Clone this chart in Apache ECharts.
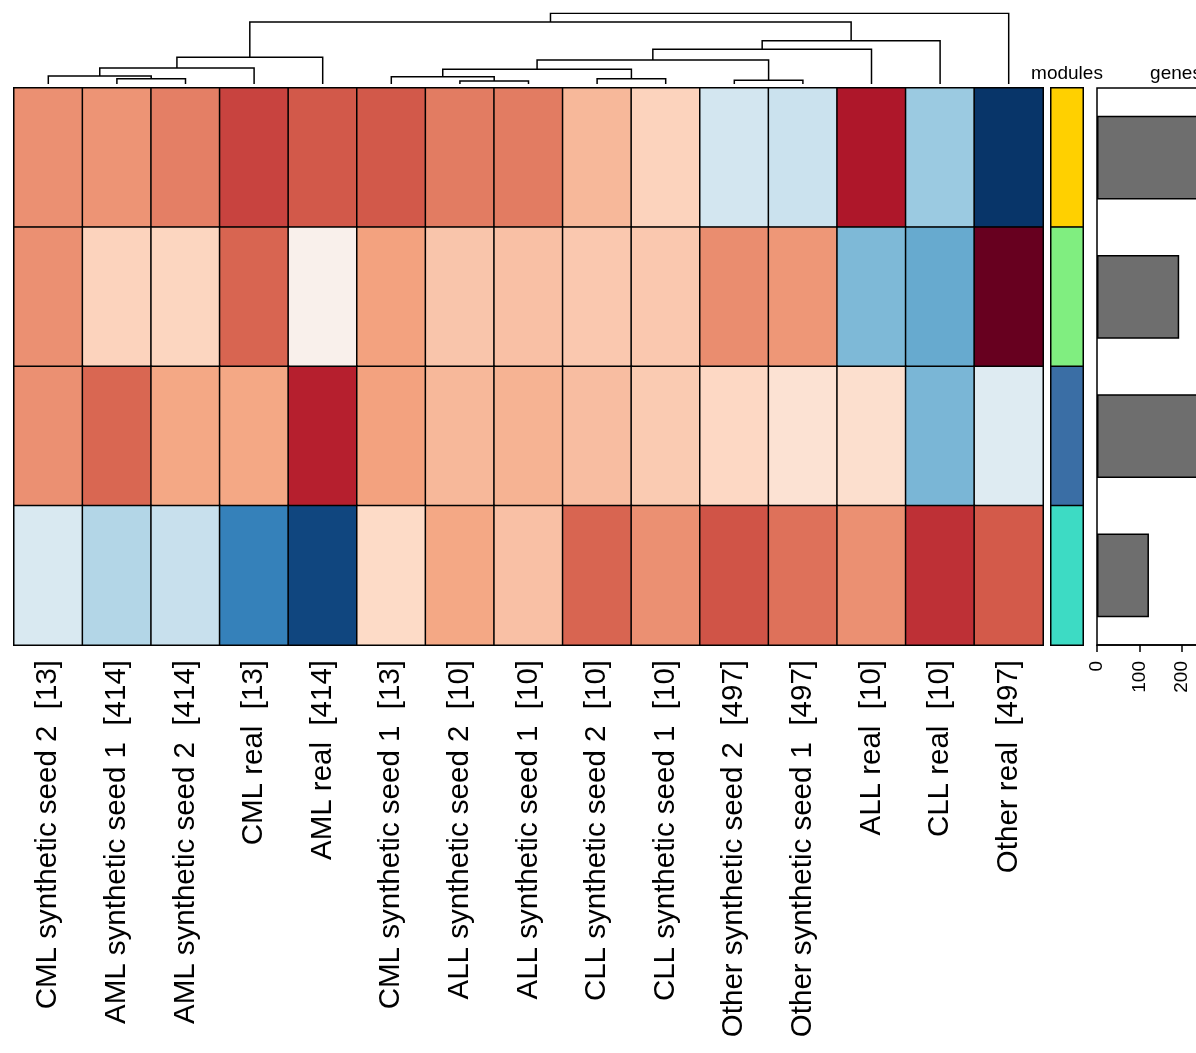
<!DOCTYPE html>
<html>
<head>
<meta charset="utf-8">
<style>
html,body{margin:0;padding:0;background:#fff;overflow:hidden;}
#chart{width:1270px;height:1053px;}
</style>
<script src="https://cdn.jsdelivr.net/npm/echarts@6/dist/echarts.min.js"></script>
</head>
<body>
<div id="chart"></div>
<script>
// ---- data ----
const columns = [
  'CML synthetic seed 2  [13]', 'AML synthetic seed 1  [414]', 'AML synthetic seed 2  [414]',
  'CML real  [13]', 'AML real  [414]', 'CML synthetic seed 1  [13]',
  'ALL synthetic seed 2  [10]', 'ALL synthetic seed 1  [10]', 'CLL synthetic seed 2  [10]',
  'CLL synthetic seed 1  [10]', 'Other synthetic seed 2  [497]', 'Other synthetic seed 1  [497]',
  'ALL real  [10]', 'CLL real  [10]', 'Other real  [497]'
];
const modules = ['M1', 'M2', 'M3', 'M4'];
const moduleColors = ['#FFD000', '#80EE80', '#3A6EA5', '#3DDBC4'];
const row1 = [0.46, 0.45, 0.51, 0.68, 0.62, 0.62, 0.52, 0.52, 0.33, 0.23, -0.19, -0.22, 0.81, -0.37, -0.98];
const row2 = [0.46, 0.23, 0.22, 0.585, 0.05, 0.41, 0.28, 0.30, 0.27, 0.27, 0.47, 0.44, -0.45, -0.51, 1.0];
const row3 = [0.46, 0.58, 0.39, 0.39, 0.78, 0.41, 0.33, 0.35, 0.31, 0.26, 0.21, 0.15, 0.17, -0.46, -0.13];
const row4 = [-0.16, -0.295, -0.23, -0.68, -0.92, 0.20, 0.39, 0.30, 0.585, 0.46, 0.633, 0.55, 0.46, 0.733, 0.617];
const geneCounts = [353, 193, 330, 122];
const geneTicks = [0, 100, 200, 300];
// dendrogram (hclust style: negative = leaf position, positive = earlier merge)
const dendroMerge = [[-2,-3],[-1,1],[2,-4],[3,-5],[-7,-8],[-6,5],[-9,-10],[6,7],[-11,-12],[8,9],[10,-13],[11,-14],[4,12],[13,-15]];
const dendroHeight = [5.3, 8, 16, 26.7, 3, 7.3, 5.3, 14.7, 3.7, 24, 34.7, 43.3, 62, 70.7];
const rdbu = ['#053061','#2166ac','#4393c3','#92c5de','#d1e5f0','#f7f7f7','#fddbc7','#f4a582','#d6604d','#b2182b','#67001f'];

// ---- build ----
const rows = [row1, row2, row3, row4];
const heatData = [];
rows.forEach((r, ri) => r.forEach((v, ci) => heatData.push([ci, ri, v])));

const nodeX = [], nodeH = [];
const dendroLines = [];
function childInfo(c) {
  if (c < 0) return { x: -c - 1, h: 0 };
  return { x: nodeX[c - 1], h: nodeH[c - 1] };
}
dendroMerge.forEach((m, i) => {
  const a = childInfo(m[0]), b = childInfo(m[1]);
  const h = dendroHeight[i];
  const l = a.x <= b.x ? a : b, r = a.x <= b.x ? b : a;
  nodeX.push((l.x + r.x) / 2); nodeH.push(h);
  dendroLines.push({ coords: [[l.x, l.h], [l.x, h], [r.x, h], [r.x, r.h]] });
});

const font = 'Liberation Sans, Arial, Helvetica, sans-serif';
const chart = echarts.init(document.getElementById('chart'));
chart.setOption({
  backgroundColor: '#fff',
  animation: false,
  grid: [
    { left: 14, top: 88, width: 1029, height: 557 },
    { left: 14, top: 13.3, width: 1029, height: 70.7 },
    { left: 1051, top: 88, width: 32, height: 557 },
    { left: 1097, top: 88, width: 158, height: 557, show: true, borderColor: '#000', borderWidth: 1.5, backgroundColor: 'transparent' }
  ],
  xAxis: [
    { gridIndex: 0, type: 'category', data: columns,
      axisLine: { show: false }, axisTick: { show: false },
      axisLabel: { rotate: 90, interval: 0, fontSize: 29.5, color: '#000', margin: 15, fontFamily: font } },
    { gridIndex: 1, type: 'value', min: -0.5, max: 14.5, show: false },
    { gridIndex: 2, type: 'category', data: ['modules'], position: 'top',
      axisLine: { show: false }, axisTick: { show: false },
      axisLabel: { fontSize: 19, color: '#000', margin: 5, fontFamily: font } },
    { gridIndex: 3, type: 'value', min: 0, max: 371, interval: 100, position: 'bottom',
      axisLine: { show: true, lineStyle: { color: '#000', width: 1.5 } },
      axisTick: { show: true, length: 7, lineStyle: { color: '#000', width: 1.5 } },
      splitLine: { show: false },
      axisLabel: { rotate: 90, fontSize: 19, color: '#000', margin: 16, fontFamily: font } },
    { gridIndex: 3, type: 'category', data: ['genes'], position: 'top',
      axisLine: { show: false }, axisTick: { show: false },
      axisLabel: { fontSize: 19, color: '#000', margin: 5, fontFamily: font } }
  ],
  yAxis: [
    { gridIndex: 0, type: 'category', data: modules, inverse: true, show: false },
    { gridIndex: 1, type: 'value', min: 0, max: 70.7, show: false },
    { gridIndex: 2, type: 'category', data: modules, inverse: true, show: false },
    { gridIndex: 3, type: 'category', data: modules, inverse: true, show: false }
  ],
  visualMap: [
    { type: 'continuous', min: -1, max: 1, show: false, seriesIndex: 0, dimension: 2,
      inRange: { color: rdbu } },
    { type: 'piecewise', show: false, seriesIndex: 2, dimension: 2,
      pieces: moduleColors.map((c, i) => ({ value: i, color: c })) }
  ],
  series: [
    { type: 'heatmap', xAxisIndex: 0, yAxisIndex: 0, data: heatData,
      itemStyle: { borderColor: '#000', borderWidth: 1.5 }, silent: true },
    { type: 'lines', coordinateSystem: 'cartesian2d', xAxisIndex: 1, yAxisIndex: 1,
      polyline: true, data: dendroLines, silent: true,
      lineStyle: { color: '#000', width: 1.5, opacity: 1 } },
    { type: 'heatmap', xAxisIndex: 2, yAxisIndex: 2,
      data: modules.map((m, i) => [0, i, i]),
      itemStyle: { borderColor: '#000', borderWidth: 1.5 }, silent: true },
    { type: 'bar', xAxisIndex: 3, yAxisIndex: 3, data: geneCounts, barWidth: '60%',
      itemStyle: { color: '#6E6E6E', borderColor: '#000', borderWidth: 1.5 }, silent: true }
  ]
});
</script>
</body>
</html>
